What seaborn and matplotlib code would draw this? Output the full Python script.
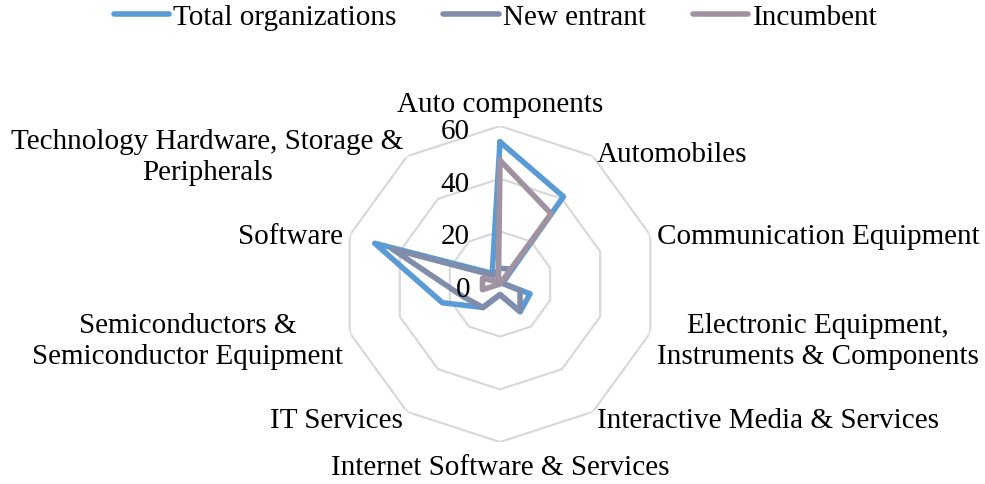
import numpy as np
import pandas as pd
import matplotlib
matplotlib.use("Agg")
import matplotlib.pyplot as plt
import seaborn as sns

# categories, clockwise from the top
categories = [
    "Auto components",
    "Automobiles",
    "Communication Equipment",
    "Electronic Equipment,\nInstruments & Components",
    "Interactive Media & Services",
    "Internet Software & Services",
    "IT Services",
    "Semiconductors &\nSemiconductor Equipment",
    "Software",
    "Technology Hardware, Storage &\nPeripherals",
]

total_orgs = [54, 41, 1, 12, 13, 4, 11, 23, 50, 5]
new_entrant = [6, 7, 1, 8, 13, 4, 11, 15, 43, 4]
incumbent = [47, 33, 0, 0, 0, 0, 0, 7, 7, 1]

series_names = ["Total organizations", "New entrant", "Incumbent"]
series_colors = ["#5B9BD5", "#7F8CAA", "#A092A0"]

radial_ticks = [0, 20, 40, 60]

# build long table, closing each loop
n = len(categories)
theta = np.linspace(0, 2 * np.pi, n, endpoint=False)
rows = []
for name, vals in zip(series_names, [total_orgs, new_entrant, incumbent]):
    for i in range(n):
        rows.append({"theta": theta[i], "value": vals[i], "series": name})
    rows.append({"theta": 2 * np.pi, "value": vals[0], "series": name})
df = pd.DataFrame(rows)

sns.set_style("white")
plt.rcParams["font.family"] = ["Liberation Serif", "DejaVu Serif"]
plt.rcParams["text.color"] = "black"

fig = plt.figure(figsize=(9.85, 4.85), dpi=100)
ax = fig.add_axes([0.3472, 0.0866, 0.3208, 0.6515], projection="polar")
ax.set_theta_zero_location("N")
ax.set_theta_direction(-1)

# decagon grid
ring_theta = np.append(theta, 2 * np.pi)
for r in radial_ticks[1:]:
    ax.plot(ring_theta, [r] * (n + 1), color="#D9D9D9", lw=1.6, zorder=1)

sns.lineplot(data=df, x="theta", y="value", hue="series", hue_order=series_names,
             palette=series_colors, sort=False, estimator=None, linewidth=4,
             solid_joinstyle="round", solid_capstyle="round", ax=ax, zorder=3)

ax.set_ylim(0, 60)
ax.grid(False)
ax.spines["polar"].set_visible(False)
ax.set_xticks([])
ax.set_yticks([])
ax.set_xlabel("")
ax.set_ylabel("")

# radial value labels
for v in radial_ticks:
    ax.annotate(str(v), xy=(0, v), xytext=(-30, -2), textcoords="offset pixels",
                ha="right", va="center_baseline", fontsize=21)

# category labels
for t, lab in zip(theta, categories):
    deg = np.degrees(t)
    r = 62.5
    if np.isclose(deg, 0):
        ha, va = "center", "bottom"
        r = 63.5
    elif np.isclose(deg, 180):
        ha, va = "center", "top"
        r = 64.5
    elif deg < 180:
        ha, va = "left", "center_baseline"
    else:
        ha, va = "right", "center_baseline"
    ax.text(t, r, lab, ha=ha, va=va, multialignment="center",
            fontsize=21, linespacing=1.25)

handles, labels = ax.get_legend_handles_labels()
if ax.get_legend() is not None:
    ax.get_legend().remove()
fig.legend(handles, labels, loc="upper center", bbox_to_anchor=(0.503, 1.045),
           ncol=3, frameon=False, fontsize=21, handlelength=1.9,
           handletextpad=0.15, columnspacing=1.6)

fig.savefig("out.png", dpi=100)
